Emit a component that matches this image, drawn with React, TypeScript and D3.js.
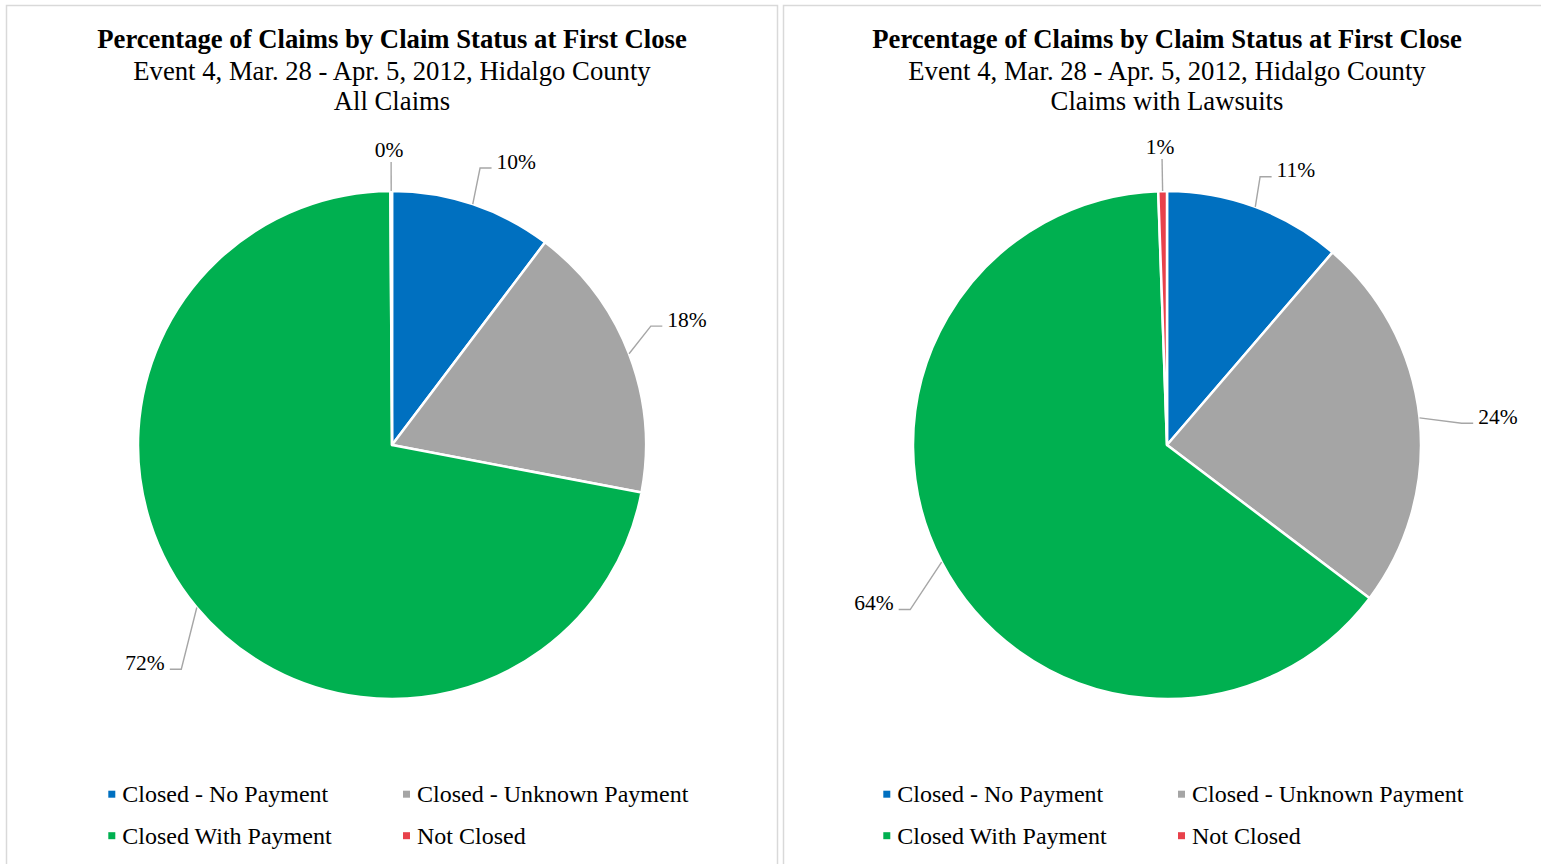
import React from "react";
import * as d3 from "d3";

const categories = ["Closed - No Payment", "Closed - Unknown Payment", "Closed With Payment", "Not Closed"];
const sliceColors = ["#0070C0", "#A5A5A5", "#00B050", "#E8414B"];
const allClaimsValues = [10.3, 17.7, 71.9, 0.1];
const lawsuitClaimsValues = [11.3, 24.0, 64.15, 0.55];
const titleText = "Percentage of Claims by Claim Status at First Close";
const eventText = "Event 4, Mar. 28 - Apr. 5, 2012, Hidalgo County";
const subsetTitles = ["All Claims", "Claims with Lawsuits"];

// label leader layout: [angle shift in degrees, extension beyond rim in px]
const leftLabelLayout: [number, number][] = [[-0.9, 36.6], [-3.6, 30.8], [-7, 53.7], [0, 29]];
const rightLabelLayout: [number, number][] = [[-1.2, 30], [1.9, 41.5], [-5.2, 51], [0, 32]];

const W = 1541;
const H = 864;
const FONT = "'Liberation Serif', 'Times New Roman', serif";
const R = 254;
const LABEL_SIZE = 21.5;

function polar(cx: number, cy: number, ang: number, r: number): [number, number] {
  return [cx + r * Math.sin(ang), cy - r * Math.cos(ang)];
}

function PiePanel({ x0, borderX, values, subtitle, layout }: { x0: number; borderX: number; values: number[]; subtitle: string; layout: [number, number][] }) {
  const cx = x0 + 386;
  const cy = 445;
  const total = d3.sum(values);
  const pie = d3.pie<number>().sort(null).value((d) => d);
  const arcs = pie(values);
  const arc = d3.arc<d3.PieArcDatum<number>>().innerRadius(0).outerRadius(R);
  const fmt = (v: number) => `${Math.round((v / total) * 100)}%`;

  return (
    <g>
      <rect x={borderX + 0.5} y={5.5} width={771} height={950} fill="#fff" stroke="#D9D9D9" strokeWidth={1.5} />
      <text x={cx} y={48} textAnchor="middle" fontFamily={FONT} fontSize={26.7} fontWeight="bold" fill="#000">{titleText}</text>
      <text x={cx} y={80} textAnchor="middle" fontFamily={FONT} fontSize={26.7} fill="#000">{eventText}</text>
      <text x={cx} y={110} textAnchor="middle" fontFamily={FONT} fontSize={26.7} fill="#000">{subtitle}</text>
      <g transform={`translate(${cx},${cy})`}>
        {arcs.map((a, i) => (
          <path key={i} d={arc(a) || ""} fill={sliceColors[i]} stroke="#fff" strokeWidth={2.5} strokeLinejoin="round" />
        ))}
      </g>
      {arcs.map((a, i) => {
        const mid = (a.startAngle + a.endAngle) / 2;
        const [shiftDeg, ext] = layout[i];
        const rim = polar(cx, cy, mid, R);
        const elbow = polar(cx, cy, mid + (shiftDeg * Math.PI) / 180, R + ext);
        const label = fmt(values[i]);
        if (Math.abs(Math.sin(mid)) < 0.1 && Math.cos(mid) > 0) {
          return (
            <g key={i}>
              <line x1={rim[0]} y1={rim[1]} x2={elbow[0]} y2={elbow[1]} stroke="#A6A6A6" strokeWidth={1.4} />
              <text x={elbow[0] - 2} y={elbow[1] - 5} textAnchor="middle" fontFamily={FONT} fontSize={LABEL_SIZE} fill="#000">{label}</text>
            </g>
          );
        }
        const right = elbow[0] > cx;
        const hx = right ? elbow[0] + 11.5 : elbow[0] - 11.5;
        const tx = right ? hx + 5 : hx - 5;
        return (
          <g key={i}>
            <polyline points={`${rim[0]},${rim[1]} ${elbow[0]},${elbow[1]} ${hx},${elbow[1]}`} fill="none" stroke="#A6A6A6" strokeWidth={1.4} />
            <text x={tx} y={elbow[1] + 0.5} textAnchor={right ? "start" : "end"} fontFamily={FONT} fontSize={LABEL_SIZE} fill="#000">{label}</text>
          </g>
        );
      })}
      {categories.map((c, i) => {
        const col = i % 2;
        const row = Math.floor(i / 2);
        const mx = x0 + (col === 0 ? 102.3 : 397);
        const by = 802 + row * 41.5;
        return (
          <g key={c}>
            <rect x={mx} y={by - 11.3} width={7} height={7} fill={sliceColors[i]} />
            <text x={mx + 14} y={by} fontFamily={FONT} fontSize={24} fill="#000">{c}</text>
          </g>
        );
      })}
    </g>
  );
}

export default function App() {
  return (
    <svg width={W} height={H} style={{ position: "absolute", left: 0, top: 0, background: "#fff" }}>
      <rect x={0} y={0} width={W} height={H} fill="#fff" />
      <PiePanel x0={6} borderX={6} values={allClaimsValues} subtitle={subsetTitles[0]} layout={leftLabelLayout} />
      <PiePanel x0={781} borderX={783} values={lawsuitClaimsValues} subtitle={subsetTitles[1]} layout={rightLabelLayout} />
    </svg>
  );
}
